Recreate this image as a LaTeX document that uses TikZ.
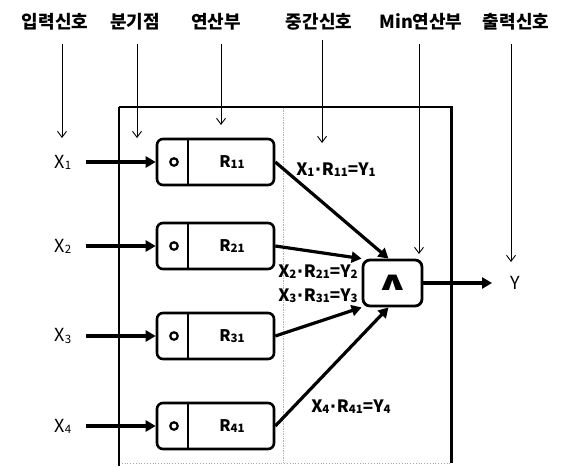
\documentclass[tikz,border=0pt]{standalone}
\usepackage{fontspec}
\usepackage{graphicx}
\setmainfont{Noto Sans CJK KR}
\newfontfamily\symfont{DejaVu Sans}
\usetikzlibrary{arrows.meta,calc}
\newcommand\subn[1]{\raisebox{-1.2pt}{\fontsize{11.5}{11.5}\selectfont #1}}
\newcommand\mdot{{\symfont\bfseries\kern0.5pt·\kern0.5pt}}
\begin{document}
\begin{tikzpicture}[x=1pt,y=-1pt,
  hdr/.style={font=\bfseries\fontsize{18}{20}\selectfont, inner sep=0pt},
  xl/.style={font=\fontsize{18}{20}\selectfont, inner sep=0pt},
  eq/.style={font=\bfseries\fontsize{17}{18}\selectfont, inner sep=0pt},
  rtxt/.style={font=\bfseries\fontsize{16}{18}\selectfont, inner sep=0pt},
  thinarr/.style={line width=0.9pt,-{Straight Barb[length=6pt,width=9pt]}},
  thickarr/.style={line width=3.2pt,-{Triangle[length=10pt,width=11pt]}},
  rbox/.style={draw,line width=2.6pt,rounded corners=6pt,minimum width=117pt,minimum height=46pt,inner sep=0pt},
  mbox/.style={draw,line width=2.8pt,rounded corners=7pt,minimum width=59pt,minimum height=46pt,inner sep=0pt},
  ring/.style={draw,circle,line width=2.2pt,minimum size=7.5pt,inner sep=0pt},
  divider/.style={line width=2pt}
]
\useasboundingbox (0,0) rectangle (570,466);
% frame
\draw[gray!60, densely dotted, line width=0.7pt] (283,108) -- (283,463);
\draw[gray!70, dotted, line width=0.8pt] (119,463) -- (451,463);
\draw[line width=1.6pt] (119,107) -- (451,107);
\draw[line width=2.4pt] (119,107) -- (119,466);
\draw[line width=3pt] (451,106) -- (451,463);
% headers
\node[hdr] (h1) at (55,22) {입력신호};
\node[hdr] (h2) at (135,22) {분기점};
\node[hdr] (h3) at (216,22) {연산부};
\node[hdr] (h4) at (319,22) {중간신호};
\node[hdr] (h5) at (421,22) {Min연산부};
\node[hdr] (h6) at (516,22) {출력신호};
\coordinate (s1) at (62,44);  \coordinate (e1) at (62,138);
\coordinate (s2) at (137,44); \coordinate (e2) at (137,138);
\coordinate (s3) at (221,44); \coordinate (e3) at (221,125);
\coordinate (s4) at (322,40); \coordinate (e4) at (322,143);
\coordinate (s5) at (419,44); \coordinate (e5) at (419,254);
\coordinate (s6) at (511,44); \coordinate (e6) at (511,262);
\foreach \i in {1,...,6} {\draw[thinarr] (s\i) -- (e\i);}
% boxes
\foreach \i/\y/\r in {1/162/11,2/246/21,3/336/31,4/426/41} {
  \node[rbox] (b\i) at (215.5,\y) {};
  \node[rtxt] (r\i) at (232,\y) {R\subn{\r}};
  \node[ring] (d\i) at (174,\y) {};
  \draw[divider] ($(b\i.north west)!0.274!(b\i.north east)$) -- ($(b\i.south west)!0.274!(b\i.south east)$);
  \node[xl] (x\i) at (63,\y) {X\subn{\i}};
  \draw[thickarr, shorten <=14pt] (x\i.east) -- (b\i.west);
}
% min box
\node[mbox] (mn) at (392.5,283) {\scalebox{1.5}[0.95]{\symfont\bfseries\fontsize{28}{28}\selectfont ∧}};
\node[xl] (yout) at (515,283) {Y};
\draw[thickarr] (b1.east) -- ([xshift=-4pt]mn.north);
\draw[thickarr] (b2.east) -- (mn.north west);
\draw[thickarr] (b3.east) -- (mn.south west);
\draw[thickarr] (b4.east) -- ([xshift=-4pt]mn.south);
\draw[thickarr, shorten >=18pt] (mn.east) -- (yout.west);
% labels
\node[eq] (l1) at (336,170) {X\subn{1}\mdot R\subn{11}=Y\subn{1}};
\node[eq] (l2) at (318,272) {X\subn{2}\mdot R\subn{21}=Y\subn{2}};
\node[eq] (l3) at (318,296) {X\subn{3}\mdot R\subn{31}=Y\subn{3}};
\node[eq] (l4) at (351,407) {X\subn{4}\mdot R\subn{41}=Y\subn{4}};
\end{tikzpicture}
\end{document}
